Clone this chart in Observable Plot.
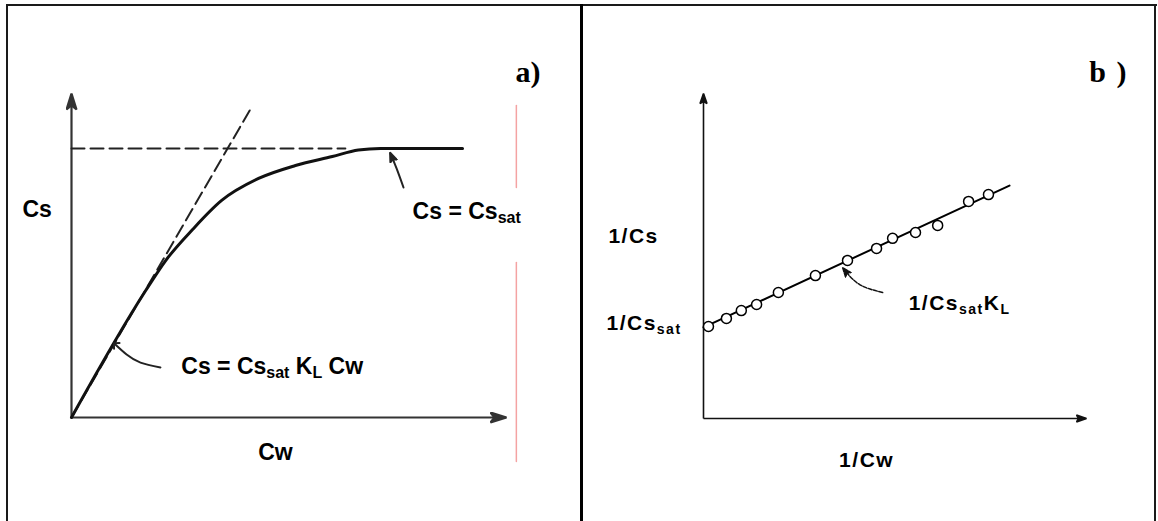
<!DOCTYPE html>
<html><head><meta charset="utf-8">
<script src="https://cdn.jsdelivr.net/npm/d3@7"></script>
<script src="https://cdn.jsdelivr.net/npm/@observablehq/plot@0.6"></script>
<style>
html,body{margin:0;padding:0;background:#fff;}
#wrap{position:relative;width:1158px;height:521px;overflow:hidden;background:#fff;}
#wrap svg{position:absolute;top:0;z-index:1;}
#wrap svg.panel-b text{letter-spacing:1.5px;}
.bd{position:absolute;background:#1a1a1a;z-index:2;}
</style></head><body>
<div id="wrap">
  <div class="bd" style="left:6px;top:4px;width:2px;height:517px"></div>
  <div class="bd" style="left:6px;top:4px;width:1151px;height:2px"></div>
  <div class="bd" style="left:1154px;top:4px;width:2px;height:517px"></div>
  <div class="bd" style="left:580px;top:4px;width:3px;height:517px;background:#000"></div>
</div>
<script>
// ---------- Panel a: Langmuir isotherm Cs vs Cw (arbitrary units) ----------
const axisA = [0, 10];                       // Cw and Cs axis extent
const isoCw = [0, 1.71, 2.17, 2.79, 3.46, 4.31, 5.16, 6.01, 6.61, 7.12, 9.01];
const isoCs = [0, 3.93, 4.86, 5.82, 6.72, 7.40, 7.80, 8.08, 8.28, 8.33, 8.33];
const tangentCw = [0, 4.12];
const tangentCs = [0, 9.54];
const satCw = [0, 6.31];
const satCs = [8.33, 8.33];
const redCw = [10.25, 10.25];
const redCsTop = [9.66, 7.12];
const redCsBottom = [4.80, -1.36];
const noteA1Cw = [7.65, 7.49, 7.35];
const noteA1Cs = [7.12, 7.71, 8.17];
const noteA2Cw = [2.05, 1.59, 1.27, 1.01];
const noteA2Cs = [1.55, 1.70, 1.95, 2.26];
const labelsA = ["Cs", "Cs = Cs_{sat}", "Cs = Cs_{sat} K_{L} Cw", "Cw", "a)"];
const labelCwA = [-1.13, 7.86, 2.53, 4.70, 10.23];
const labelCsA = [6.44, 6.36, 1.56, -1.08, 10.40];

// ---------- Panel b: linearised 1/Cs vs 1/Cw ----------
const axisB = [0, 10];
const invCw = [0.13, 0.60, 0.99, 1.39, 1.96, 2.93, 3.77, 4.53, 4.95, 5.55, 6.13, 6.94, 7.46];
const invCs = [2.84, 3.09, 3.33, 3.52, 3.89, 4.41, 4.88, 5.25, 5.56, 5.74, 5.96, 6.70, 6.91];
const fitInvCw = [0, 8.01];
const fitInvCs = [2.81, 7.19];
const noteBCw = [4.69, 4.08, 3.66];
const noteBCs = [3.89, 4.14, 4.63];
const labelsB = ["1/Cs", "1/Cs_{sat}", "1/Cs_{sat}K_{L}", "1/Cw", "b )"];
const labelCwB = [-2.49, -2.54, 5.37, 4.27, 10.10];
const labelCsB = [5.62, 2.93, 3.55, -1.30, 10.40];

// ---------- helpers ----------
const zip = (xs, ys) => xs.map((x, i) => ({x, y: ys[i]}));
const NS = "http://www.w3.org/2000/svg";
function filledArrow(len, half, notch) {
  return (color, context) => {
    const doc = (context && context.document) || document;
    const m = doc.createElementNS(NS, "marker");
    m.setAttribute("viewBox", `${-len - 1} ${-half - 1} ${len + 3} ${2 * half + 2}`);
    m.setAttribute("markerWidth", len + 3);
    m.setAttribute("markerHeight", 2 * half + 2);
    m.setAttribute("markerUnits", "userSpaceOnUse");
    m.setAttribute("orient", "auto");
    m.setAttribute("refX", 0);
    m.setAttribute("refY", 0);
    const p = doc.createElementNS(NS, "path");
    p.setAttribute("d", `M${-len},${-half}L1,0L${-len},${half}L${-len + notch},0Z`);
    p.setAttribute("fill", color);
    m.appendChild(p);
    return m;
  };
}
function subscripts(svg, subSize, shift) {
  svg.querySelectorAll("text").forEach(t => {
    const s = t.textContent;
    if (!s.includes("_{")) return;
    t.textContent = "";
    const parts = s.split(/(_\{[^}]*\})/).filter(p => p.length);
    let shifted = false;
    for (const p of parts) {
      const ts = document.createElementNS(NS, "tspan");
      if (p.startsWith("_{")) {
        ts.textContent = p.slice(2, -1);
        ts.setAttribute("font-size", subSize);
        ts.setAttribute("dy", shift);
        shifted = true;
      } else {
        ts.textContent = p;
        if (shifted) { ts.setAttribute("dy", -shift); shifted = false; }
      }
      t.appendChild(ts);
    }
  });
}

const wrap = document.getElementById("wrap");
const sans = "Liberation Sans, Arial, sans-serif";
const serif = "Liberation Serif, Times New Roman, serif";

// ---------- Panel a ----------
const axesA = [
  {x1: axisA[0], y1: axisA[0], x2: axisA[1], y2: axisA[0]},
  {x1: axisA[0], y1: axisA[0], x2: axisA[0], y2: axisA[1]}
];
const labA = labelsA.map((t, i) => ({t, x: labelCwA[i], y: labelCsA[i]}));
const plotA = Plot.plot({
  width: 580, height: 521, margin: 0,
  x: {domain: axisA, range: [71, 505], axis: null},
  y: {domain: axisA, range: [417, 94], axis: null},
  style: {background: "transparent", overflow: "visible"},
  marks: [
    Plot.link(axesA, {x1: "x1", y1: "y1", x2: "x2", y2: "y2", stroke: "#333", strokeWidth: 2.2,
      markerEnd: filledArrow(15, 5, 4)}),
    Plot.line(zip(satCw, satCs), {x: "x", y: "y", stroke: "#222", strokeWidth: 2, strokeDasharray: "13,6"}),
    Plot.line(zip(tangentCw, tangentCs), {x: "x", y: "y", stroke: "#222", strokeWidth: 2, strokeDasharray: "13,6"}),
    Plot.line(zip(isoCw, isoCs), {x: "x", y: "y", curve: "monotone-x", stroke: "#111", strokeWidth: 3}),
    Plot.line(zip(redCw, redCsTop), {x: "x", y: "y", stroke: "#f4a3a3", strokeWidth: 1.5}),
    Plot.line(zip(redCw, redCsBottom), {x: "x", y: "y", stroke: "#f4a3a3", strokeWidth: 1.5}),
    Plot.line(zip(noteA1Cw, noteA1Cs), {x: "x", y: "y", curve: "natural", stroke: "#222", strokeWidth: 2,
      markerEnd: filledArrow(8, 3.5, 2)}),
    Plot.line(zip(noteA2Cw, noteA2Cs), {x: "x", y: "y", curve: "natural", stroke: "#222", strokeWidth: 2,
      markerEnd: "arrow"}),
    Plot.text(labA.slice(0, 3), {x: "x", y: "y", text: "t", textAnchor: "start",
      lineAnchor: "middle", fontSize: 23, fontWeight: "bold", fontFamily: sans, fill: "#000"}),
    Plot.text(labA.slice(3, 4), {x: "x", y: "y", text: "t", textAnchor: "middle",
      lineAnchor: "middle", fontSize: 23, fontWeight: "bold", fontFamily: sans, fill: "#000"}),
    Plot.text(labA.slice(4), {x: "x", y: "y", text: "t", textAnchor: "start", lineAnchor: "bottom",
      fontSize: 30, fontWeight: "bold", fontFamily: serif, fill: "#000"})
  ]
});
plotA.style.left = "0px";
subscripts(plotA, 16, 4);
wrap.prepend(plotA);

// ---------- Panel b ----------
const axesB = [
  {x1: axisB[0], y1: axisB[0], x2: axisB[1], y2: axisB[0]},
  {x1: axisB[0], y1: axisB[0], x2: axisB[0], y2: axisB[1]}
];
const labB = labelsB.map((t, i) => ({t, x: labelCwB[i], y: labelCsB[i]}));
const plotB = Plot.plot({
  width: 578, height: 521, margin: 0,
  x: {domain: axisB, range: [123, 505], axis: null},
  y: {domain: axisB, range: [418, 94], axis: null},
  style: {background: "transparent", overflow: "visible"},
  marks: [
    Plot.link(axesB, {x1: "x1", y1: "y1", x2: "x2", y2: "y2", stroke: "#111", strokeWidth: 1.6,
      markerEnd: filledArrow(9, 3.5, 2)}),
    Plot.line(zip(fitInvCw, fitInvCs), {x: "x", y: "y", stroke: "#000", strokeWidth: 2}),
    Plot.dot(zip(invCw, invCs), {x: "x", y: "y", r: 5, stroke: "#000", fill: "white", strokeWidth: 1.5}),
    Plot.line(zip(noteBCw, noteBCs), {x: "x", y: "y", curve: "natural", stroke: "#111", strokeWidth: 1.5,
      strokeDasharray: "4,1.5", markerEnd: filledArrow(8, 3.5, 2)}),
    Plot.text(labB.slice(0, 3), {x: "x", y: "y", text: "t", textAnchor: "start",
      lineAnchor: "middle", fontSize: 21, fontWeight: "bold", fontFamily: sans, fill: "#000"}),
    Plot.text(labB.slice(3, 4), {x: "x", y: "y", text: "t", textAnchor: "middle",
      lineAnchor: "middle", fontSize: 21, fontWeight: "bold", fontFamily: sans, fill: "#000"}),
    Plot.text(labB.slice(4), {x: "x", y: "y", text: "t", textAnchor: "start", lineAnchor: "bottom",
      fontSize: 30, fontWeight: "bold", fontFamily: serif, fill: "#000"})
  ]
});
plotB.style.left = "580px";
plotB.classList.add("panel-b");
subscripts(plotB, 14, 4);
wrap.prepend(plotB);
</script>
</body></html>
